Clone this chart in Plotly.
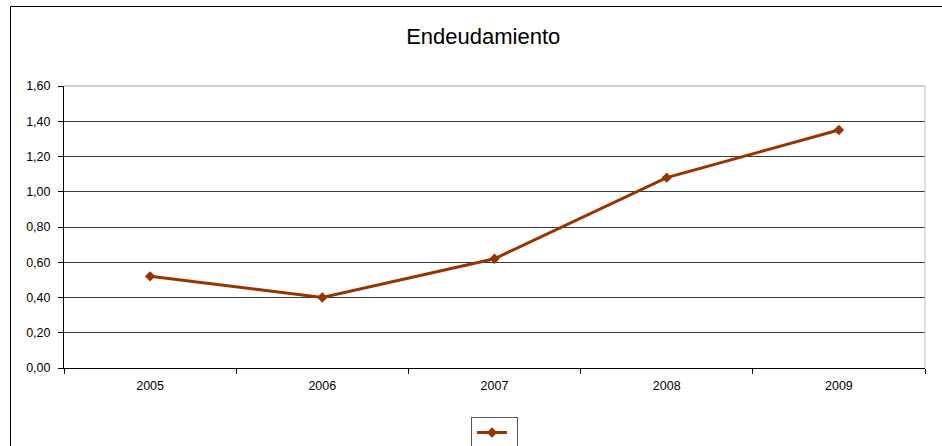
import plotly.graph_objects as go

years = ["2005", "2006", "2007", "2008", "2009"]
endeudamiento = [0.52, 0.40, 0.62, 1.08, 1.35]
y_ticks = [0.0, 0.2, 0.4, 0.6, 0.8, 1.0, 1.2, 1.4, 1.6]

fig = go.Figure()
fig.add_trace(go.Scatter(
    x=years, y=endeudamiento, mode="lines+markers", name="",
    line=dict(color="#993300", width=3),
    marker=dict(symbol="diamond", size=8, color="#993300"),
    showlegend=True,
))

fig.update_layout(
    width=942, height=446,
    margin=dict(l=64, r=17, t=86, b=78, autoexpand=False),
    paper_bgcolor="white", plot_bgcolor="white",
    separators=",.",
    font=dict(family="Arial, Liberation Sans, sans-serif", size=12.5, color="black"),
    title=dict(text="Endeudamiento", x=0.513, xref="container", xanchor="center",
               y=1 - 36 / 446, yref="container", yanchor="middle",
               font=dict(size=22, color="black")),
    showlegend=True,
    legend=dict(x=0.5, xanchor="center", y=1 - 417 / 446, yref="container", yanchor="top",
                bordercolor="#555555", borderwidth=1, bgcolor="white",
                itemwidth=30, font=dict(size=11)),
)

fig.update_xaxes(
    type="category", range=[-0.5, 4.5], tickson="boundaries", ticks="outside", ticklen=5,
    tickcolor="black", showline=True, linecolor="black", linewidth=1,
    showgrid=False, tickfont=dict(size=12.5), ticklabelstandoff=6, fixedrange=True,
)
fig.update_yaxes(
    range=[0, 1.6], tickvals=y_ticks, tickformat=".2f", ticks="outside", ticklen=5,
    tickcolor="black", showline=True, linecolor="black", linewidth=1,
    showgrid=True, gridcolor="#3c3c3c", gridwidth=1, zeroline=False,
    tickfont=dict(size=12.5), ticklabelstandoff=5,
)

# top and right plot-area edges (gray)
fig.add_shape(type="line", xref="paper", yref="paper", x0=0, x1=1, y0=1, y1=1,
              line=dict(color="#a0a0a0", width=1), layer="above")
fig.add_shape(type="line", xref="paper", yref="paper", x0=1, x1=1, y0=0, y1=1,
              line=dict(color="#c0c0c0", width=1), layer="above")
# outer chart border (extends past right and bottom edges)
fig.add_shape(type="rect", xref="paper", yref="paper",
              x0=(10.5 - 64) / 861, x1=1.2, y0=-0.6, y1=(368 - 6.5) / 282,
              line=dict(color="black", width=1), layer="below")

fig.write_html("out.html")
